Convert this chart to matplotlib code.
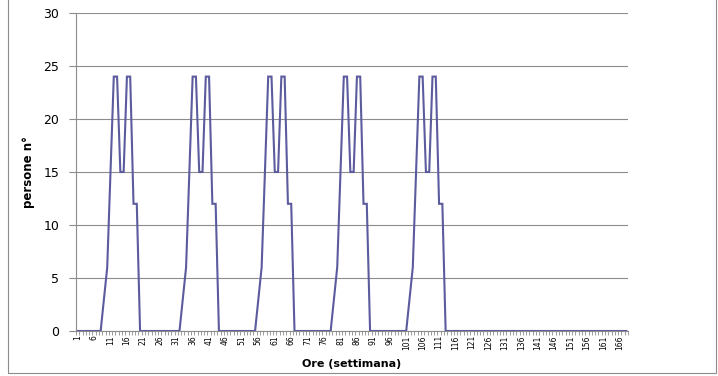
import matplotlib
matplotlib.use('Agg')
import matplotlib.pyplot as plt
from matplotlib.patches import Rectangle
from matplotlib.ticker import FixedLocator

# hourly occupancy over one week (hours 1..168)
HOURS = list(range(1, 169))
PERSONS = (
    [0, 0, 0, 0, 0, 0, 0, 0, 3, 6, 15, 24, 24, 15, 15, 24, 24, 12, 12, 0, 0, 0, 0, 0] +
    [0, 0, 0, 0, 0, 0, 0, 0, 3, 6, 15, 24, 24, 15, 15, 24, 24, 12, 12, 0, 0, 0, 0, 0] +
    [0, 0, 0, 0, 0, 0, 0, 3, 6, 15, 24, 24, 15, 15, 24, 24, 12, 12, 0, 0, 0, 0, 0, 0] +
    [0, 0, 0, 0, 0, 0, 3, 6, 15, 24, 24, 15, 15, 24, 24, 12, 12, 0, 0, 0, 0, 0, 0, 0] +
    [0, 0, 0, 0, 0, 3, 6, 15, 24, 24, 15, 15, 24, 24, 12, 12, 0, 0, 0, 0, 0, 0, 0, 0] +
    [0] * 24 +
    [0] * 24
)
XLABELS = list(range(1, 167, 5))
YTICKS = [0, 5, 10, 15, 20, 25, 30]

LINE = '#5B5B9E'
GRID = '#8C8C8C'

fig = plt.figure(figsize=(7.18, 3.76), dpi=100)
fig.patch.set_facecolor('white')
# outer chart frame
fig.patches.append(Rectangle((8 / 718, 3 / 376), 708 / 718, 380 / 376,
                             transform=fig.transFigure, fill=False,
                             edgecolor='#8C8C8C', linewidth=0.8))

ax = fig.add_axes([76 / 718, 1 - 331 / 376, 552 / 718, 318 / 376])
ax.plot(HOURS, PERSONS, color=LINE, linewidth=1.5, solid_joinstyle='miter')

ax.set_xlim(0.5, 168.5)
ax.set_ylim(0, 30)

ax.set_yticks(YTICKS)
ax.yaxis.grid(True, color=GRID, linewidth=0.8)
ax.set_axisbelow(True)
ax.tick_params(axis='y', length=5, width=0.8, color=GRID, labelsize=9, pad=7)

# category labels every 5 hours, small tick marks between every category
ax.set_xticks(XLABELS)
ax.set_xticklabels([str(v) for v in XLABELS], rotation=90, fontsize=5.5)
ax.xaxis.set_minor_locator(FixedLocator([v + 0.5 for v in range(0, 169)]))
ax.tick_params(axis='x', which='major', length=0, pad=3)
ax.tick_params(axis='x', which='minor', length=3, width=0.6, color=GRID)

for side in ('top', 'right'):
    ax.spines[side].set_visible(False)
for side in ('left', 'bottom'):
    ax.spines[side].set_color(GRID)
    ax.spines[side].set_linewidth(0.8)

ax.set_xlabel('Ore (settimana)', fontsize=8, fontweight='bold')
ax.xaxis.set_label_coords(0.5, -0.088)
ax.set_ylabel('persone n°', fontsize=8.5, fontweight='bold',
              family=['DejaVu Sans Condensed', 'DejaVu Sans'])
ax.yaxis.set_label_coords(-0.074, 0.5)

fig.savefig('out.png', dpi=100)
